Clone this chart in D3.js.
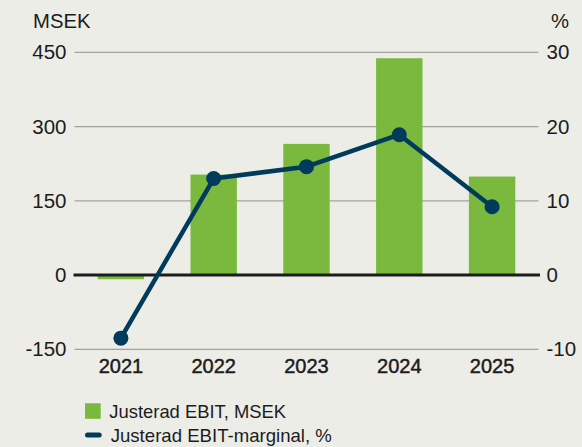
<!DOCTYPE html>
<html><head><meta charset="utf-8">
<script src="https://cdn.jsdelivr.net/npm/d3@7"></script>
<style>
html,body{margin:0;padding:0;background:#ededE8;}
svg{display:block;font-family:"Liberation Sans",Arial,Helvetica,sans-serif;}
</style></head><body>
<script>
const years = ["2021","2022","2023","2024","2025"];
const ebit = [-8.5, 203, 265, 438, 199];
const margin = [-8.5, 13.0, 14.6, 18.9, 9.2];
const leftTicks = [-150, 0, 150, 300, 450];
const rightTicks = [-10, 0, 10, 20, 30];
const legendLabels = ["Justerad EBIT, MSEK", "Justerad EBIT-marginal, %"];

const W = 582, H = 447;
const x0 = 74.5, x1 = 538.5, yTop = 52.3, yBot = 349.3;
const green = "#7ab83e", navy = "#003b5c", ink = "#1c1c1c";

const svg = d3.select("body").append("svg").attr("width", W).attr("height", H);
svg.append("rect").attr("width", W).attr("height", H).attr("fill", "#ededE8");

const x = d3.scaleBand().domain(years).range([x0, x1]).paddingInner(0.5).paddingOuter(0.25);
const yL = d3.scaleLinear().domain([-150, 450]).range([yBot, yTop]);
const yR = d3.scaleLinear().domain([-10, 30]).range([yBot, yTop]);

// gridlines
svg.append("g").selectAll("line").data(leftTicks.filter(d => d !== 0)).join("line")
  .attr("x1", x0).attr("x2", x1)
  .attr("y1", d => yL(d)).attr("y2", d => yL(d))
  .attr("stroke", "#a3a39d").attr("stroke-width", 1.2);

// bars
svg.append("g").selectAll("rect").data(years).join("rect")
  .attr("x", d => x(d)).attr("width", x.bandwidth())
  .attr("y", (d, i) => yL(Math.max(0, ebit[i])))
  .attr("height", (d, i) => Math.abs(yL(ebit[i]) - yL(0)))
  .attr("fill", green);

// zero line
svg.append("line").attr("x1", x0 - 1).attr("x2", x1 + 1.5).attr("y1", yL(0)).attr("y2", yL(0))
  .attr("stroke", ink).attr("stroke-width", 3);

// axes
const fmt = d => String(d);
const axL = svg.append("g").attr("transform", `translate(${x0 - 8},0)`)
  .call(d3.axisLeft(yL).tickValues(leftTicks).tickFormat(fmt).tickSize(0).tickPadding(0));
const axR = svg.append("g").attr("transform", `translate(${x1 + 8},0)`)
  .call(d3.axisRight(yR).tickValues(rightTicks).tickFormat(fmt).tickSize(0).tickPadding(0));
[axL, axR].forEach(a => {
  a.select(".domain").remove();
  a.selectAll("text").attr("font-size", 20.5).attr("fill", ink)
    .attr("font-family", "Liberation Sans, Arial, sans-serif");
});
const axB = svg.append("g").attr("transform", `translate(0,${yBot})`)
  .call(d3.axisBottom(x).tickSize(0).tickPadding(0));
axB.select(".domain").remove();
axB.selectAll("text").attr("font-size", 20).attr("fill", ink)
  .attr("dy", null).attr("y", 24)
  .attr("stroke", ink).attr("stroke-width", 0.45)
  .attr("font-family", "Liberation Sans, Arial, sans-serif");

// unit labels
svg.append("text").attr("x", 33).attr("y", 28.3).attr("font-size", 20.3).attr("fill", ink).text("MSEK");
svg.append("text").attr("x", 551).attr("y", 28.3).attr("font-size", 20.3).attr("fill", ink).text("%");

// line
const cx = d => x(d) + x.bandwidth() / 2;
const line = d3.line().x((d, i) => cx(years[i])).y(d => yR(d));
svg.append("path").datum(margin).attr("d", line).attr("fill", "none")
  .attr("stroke", navy).attr("stroke-width", 4.5).attr("stroke-linejoin", "round");
svg.append("g").selectAll("circle").data(margin).join("circle")
  .attr("cx", (d, i) => cx(years[i])).attr("cy", d => yR(d)).attr("r", 7.5).attr("fill", navy);

// legend
const lg = svg.append("g");
lg.append("rect").attr("x", 85).attr("y", 403.3).attr("width", 15.7).attr("height", 15.5).attr("fill", green);
lg.append("line").attr("x1", 87.5).attr("x2", 99.2).attr("y1", 435).attr("y2", 435)
  .attr("stroke", navy).attr("stroke-width", 5).attr("stroke-linecap", "round");
lg.selectAll("text").data(legendLabels).join("text")
  .attr("x", (d, i) => i === 0 ? 109.3 : 110.7).attr("y", (d, i) => i === 0 ? 417.7 : 441.7)
  .attr("font-size", (d, i) => i === 0 ? 18.4 : 18.6).attr("fill", ink).text(d => d);
</script>
</body></html>
